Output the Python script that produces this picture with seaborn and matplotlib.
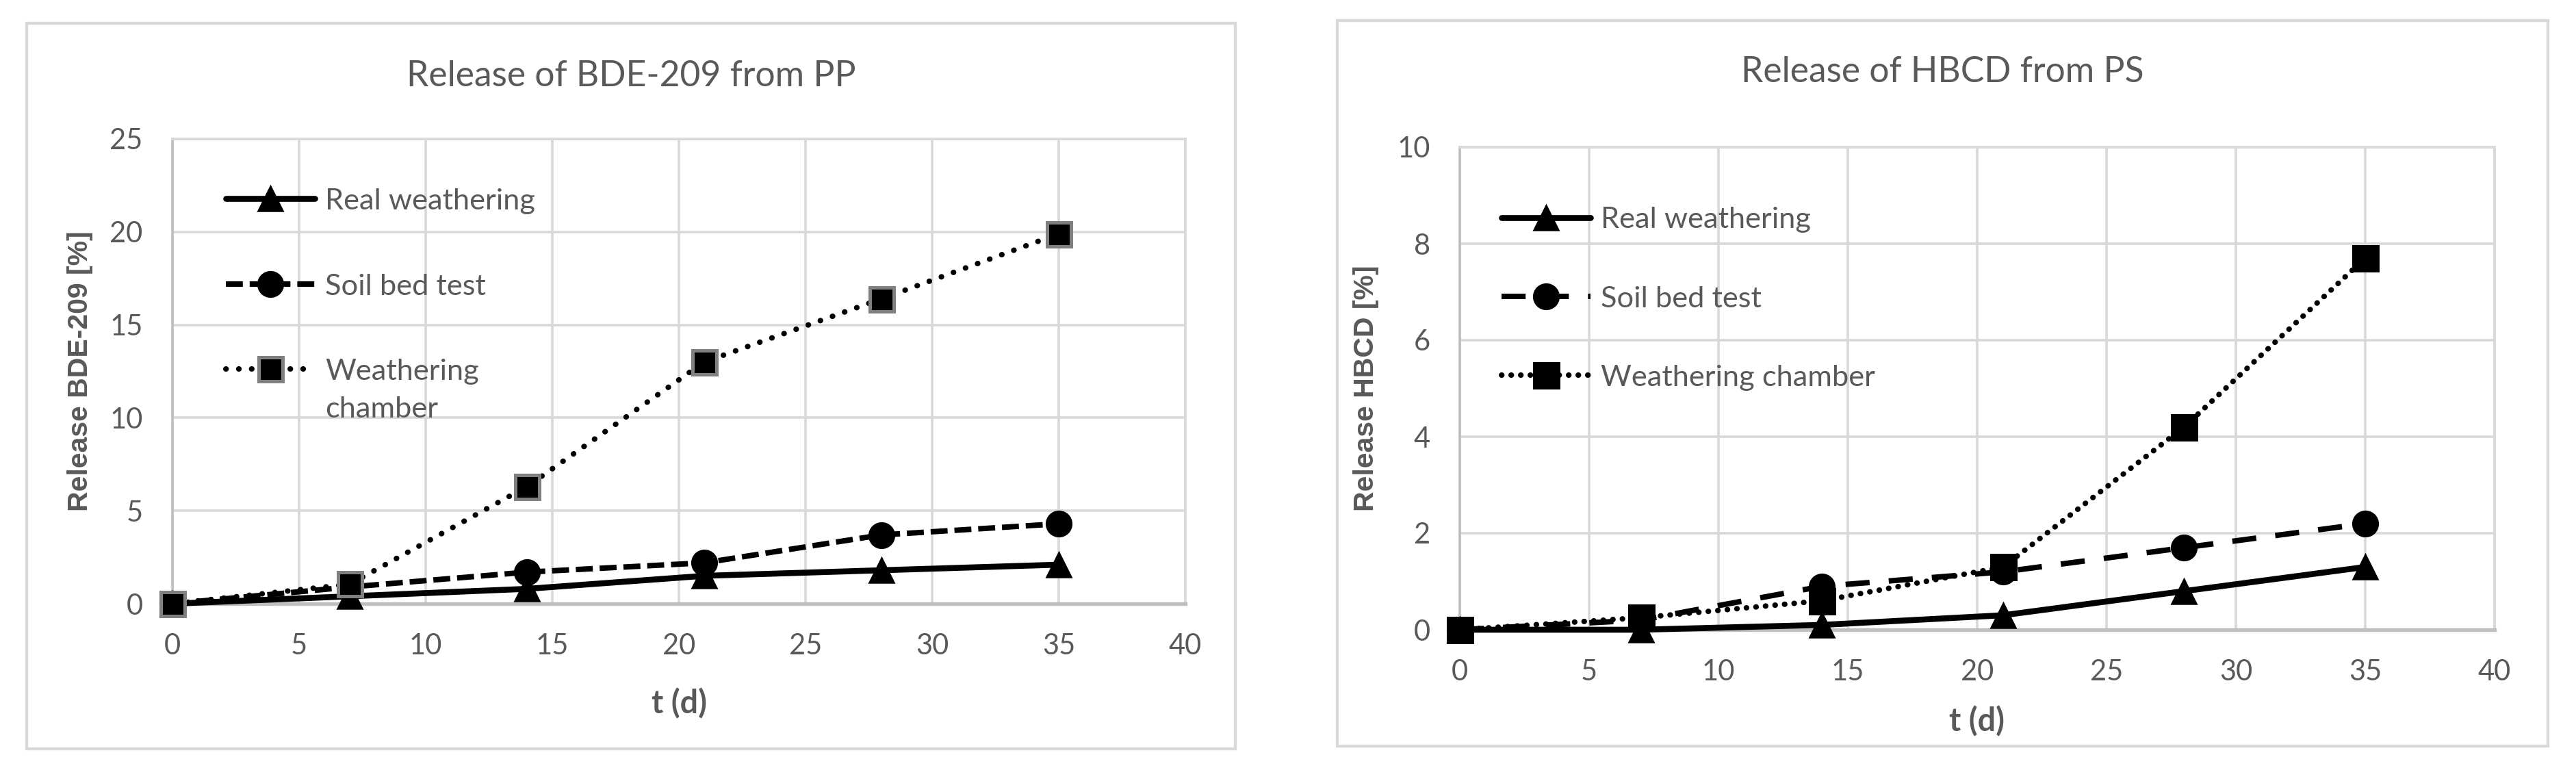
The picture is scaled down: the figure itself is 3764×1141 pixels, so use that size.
import matplotlib
matplotlib.use("Agg")
import matplotlib.pyplot as plt
from matplotlib.patches import Rectangle
import seaborn as sns
import pandas as pd

# ---------------- data ----------------
days = [0, 7, 14, 21, 28, 35]
series_names = ["Real weathering", "Soil bed test", "Weathering chamber"]

bde_real = [0.0, 0.4, 0.8, 1.5, 1.8, 2.1]
bde_soil = [0.0, 0.9, 1.7, 2.2, 3.7, 4.3]
bde_chamber = [0.0, 1.05, 6.3, 13.0, 16.4, 19.9]

hbcd_real = [0.0, 0.0, 0.1, 0.3, 0.8, 1.3]
hbcd_soil = [0.0, 0.2, 0.9, 1.2, 1.7, 2.2]
hbcd_chamber = [0.0, 0.25, 0.6, 1.3, 4.2, 7.7]

left_title = "Release of BDE-209 from PP"
right_title = "Release of HBCD from PS"
left_ylabel = "Release BDE-209 [%]"
right_ylabel = "Release HBCD [%]"
xlabel = "t (d)"
left_legend_labels = ["Real weathering", "Soil bed test", "Weathering\nchamber"]
right_legend_labels = ["Real weathering", "Soil bed test", "Weathering chamber"]
x_ticks = [0, 5, 10, 15, 20, 25, 30, 35, 40]
left_yticks = [0, 5, 10, 15, 20, 25]
right_yticks = [0, 2, 4, 6, 8, 10]

# ---------------- style ----------------
sns.set_style("white")
plt.rcParams["font.family"] = ["Lato", "DejaVu Sans"]
GREY = "#595959"
GRID = "#d9d9d9"

W, H, DPI = 3764, 1141, 240
fig = plt.figure(figsize=(W / DPI, H / DPI), dpi=DPI)

def fx(px):
    return px / W

def fy(py):
    return 1 - py / H

# axes (pixel-based placement)
axL = fig.add_axes([fx(252), fy(882), fx(1732) - fx(252), fy(203) - fy(882)])
axR = fig.add_axes([fx(2133), fy(920), fx(3645) - fx(2133), fy(215) - fy(920)])

# panel borders
for (x0, y0, x1, y1) in [(39, 34, 1805, 1094), (1954, 30, 3723, 1090)]:
    fig.add_artist(Rectangle((fx(x0), fy(y1)), fx(x1) - fx(x0), fy(y0) - fy(y1),
                             transform=fig.transFigure, fill=False,
                             ec=GRID, lw=1.3))

def draw_panel(ax, real, soil, chamber, ymax, yticks, soil_dash, dot_dash,
               sq_edge, labels):
    df = pd.DataFrame({"t": days, "real": real, "soil": soil, "chamber": chamber})
    sns.lineplot(data=df, x="t", y="real", ax=ax, color="black", lw=2.6,
                 marker="^", markersize=11, markeredgecolor="black",
                 label=labels[0], clip_on=False, zorder=3)
    sns.lineplot(data=df, x="t", y="soil", ax=ax, color="black", lw=2.4,
                 linestyle=(0, soil_dash), marker="o", markersize=11,
                 markeredgecolor="black", label=labels[1], clip_on=False,
                 zorder=4)
    sns.lineplot(data=df, x="t", y="chamber", ax=ax, color="black", lw=2.4,
                 linestyle=(0, dot_dash), dash_capstyle="round", marker="s",
                 markersize=10.5, markeredgecolor=sq_edge, markeredgewidth=1.5,
                 label=labels[2], clip_on=False, zorder=5)
    ax.set_xlim(0, 40)
    ax.set_ylim(0, ymax)
    ax.set_xticks(x_ticks)
    ax.set_yticks(yticks)
    ax.grid(True, color=GRID, lw=1.1)
    ax.set_axisbelow(True)
    for s in ax.spines.values():
        s.set_color(GRID)
        s.set_linewidth(1.1)
    ax.spines["bottom"].set_color("#bfbfbf")
    ax.spines["bottom"].set_linewidth(1.6)
    ax.spines["left"].set_color("#bfbfbf")
    ax.tick_params(axis="both", length=0, labelsize=12.5, labelcolor=GREY)
    ax.tick_params(axis="y", pad=13)
    ax.tick_params(axis="x", pad=13)

draw_panel(axL, bde_real, bde_soil, bde_chamber, 25, left_yticks,
           (3.1, 1.25), (0.05, 2.3), "#808080", left_legend_labels)
draw_panel(axR, hbcd_real, hbcd_soil, hbcd_chamber, 10, right_yticks,
           (4.4, 3.5), (0.05, 1.7), "black", right_legend_labels)

# axis labels
for ax, ylab, ylx, xly in [(axL, left_ylabel, -0.0912, -0.215),
                           (axR, right_ylabel, -0.0906, -0.190)]:
    ax.set_ylabel(ylab, fontsize=12.3, fontweight="bold", color=GREY,
                  family=["Liberation Sans", "DejaVu Sans"])
    ax.yaxis.set_label_coords(ylx, 0.5)
    ax.yaxis.label.set_va("center")
    ax.set_xlabel(xlabel, fontsize=14, fontweight="bold", color=GREY)
    ax.xaxis.set_label_coords(0.5, xly)
    ax.xaxis.label.set_va("center")

# titles (centred on the chart boxes)
fig.text(fx(922), fy(112), left_title, ha="center", va="center",
         fontsize=15.5, color=GREY)
fig.text(fx(2838), fy(106), right_title, ha="center", va="center",
         fontsize=15.5, color=GREY)

# legends
def make_legend(ax, anchor, spacing):
    handles, labs = ax.get_legend_handles_labels()
    leg = ax.legend(handles, labs, loc="upper left", bbox_to_anchor=anchor,
                    frameon=False, fontsize=13, handlelength=3.0,
                    handletextpad=0.35, labelspacing=spacing, borderpad=0,
                    borderaxespad=0, labelcolor=GREY)
    for t in leg.get_texts():
        t.set_linespacing(1.55)
    for col in leg._legend_handle_box.get_children():
        for item in col.get_children():
            item.align = "top"
    return leg

make_legend(axL, (0.0527, 0.894), 2.0)
make_legend(axR, (0.0403, 0.876), 1.78)

fig.savefig("out.png", dpi=DPI, facecolor="white")
